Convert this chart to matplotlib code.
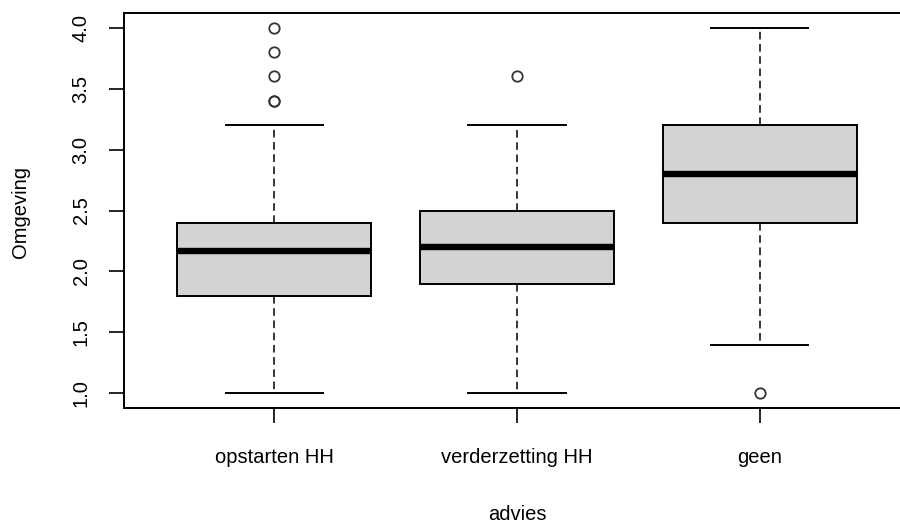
import matplotlib.pyplot as plt

plt.rcParams['font.family'] = ['Liberation Sans', 'DejaVu Sans']

categories = ["opstarten HH", "verderzetting HH", "geen"]
q1 = [1.8, 1.9, 2.4]
medians = [2.17, 2.2, 2.8]
q3 = [2.4, 2.5, 3.2]
whisker_lo = [1.0, 1.0, 1.4]
whisker_hi = [3.2, 3.2, 4.0]
outliers = [[3.4, 3.4, 3.6, 3.8, 4.0], [3.6], [1.0]]
yticks = [1.0, 1.5, 2.0, 2.5, 3.0, 3.5, 4.0]

stats = []
for i in range(len(categories)):
    stats.append(dict(label=categories[i], q1=q1[i], med=medians[i], q3=q3[i],
                      whislo=whisker_lo[i], whishi=whisker_hi[i], fliers=outliers[i]))

fig = plt.figure(figsize=(9, 5.23), dpi=100)
ax = fig.add_axes([124/900, 1-408/523, (910-124)/900, (408-13)/523])

ax.bxp(stats, positions=[1, 2, 3], widths=0.8, patch_artist=True,
       boxprops=dict(facecolor='#d3d3d3', edgecolor='black', linewidth=1.4),
       medianprops=dict(color='black', linewidth=4.6, solid_capstyle='butt'),
       whiskerprops=dict(color='black', linewidth=1.1, linestyle=(0, (5, 3))),
       capprops=dict(color='black', linewidth=1.4),
       capwidths=0.4,
       flierprops=dict(marker='o', markersize=7.5, markerfacecolor='none',
                       markeredgecolor='#333333', markeredgewidth=1.3))

ax.set_xlim(0.38, 3.62)
ax.set_ylim(0.88, 4.12)
ax.set_yticks(yticks)
ax.set_yticklabels([f"{v:.1f}" for v in yticks], rotation=90, va='center')
ax.set_xticks([1, 2, 3])
ax.set_xticklabels(categories)
ax.tick_params(axis='both', direction='out', length=11, width=1.2, labelsize=14.5)
ax.tick_params(axis='x', pad=18)
ax.tick_params(axis='y', pad=13)
for s in ax.spines.values():
    s.set_linewidth(1.4)

ax.set_xlabel("advies", fontsize=14.5, va='center')
ax.xaxis.set_label_coords(517/900, 1-515/523, transform=fig.transFigure)
ax.set_ylabel("Omgeving", fontsize=14.5, va='center')
ax.yaxis.set_label_coords(21/900, 1-212/523, transform=fig.transFigure)

fig.savefig("out.png", dpi=100)
